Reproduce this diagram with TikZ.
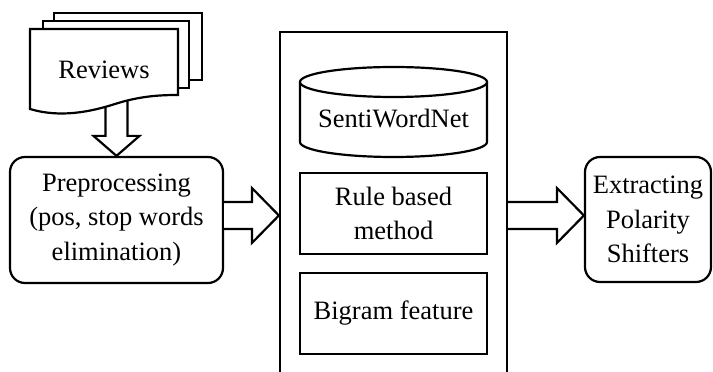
\documentclass[tikz,border=0pt]{standalone}
\usepackage{fontspec}
\setmainfont{Liberation Serif}
\usetikzlibrary{calc}
\tikzset{
  lw/.style={line width=2.2pt, line join=miter},
  txt/.style={font=\fontsize{26.5}{34.5}\selectfont, align=center, inner sep=0pt},
  rbox/.style={lw, draw, fill=white, rounded corners=15pt, txt},
  sbox/.style={lw, draw, fill=white, txt},
  barrow/.style={lw, draw, fill=white},
  page/.style={lw, draw, fill=white}
}
\newcommand\myharrow[2]{%
  \draw[barrow] let \p1=(#1), \p2=(#2) in
    (\x1,\y1+13.5pt) -- (\x2-27pt,\y1+13.5pt) -- (\x2-27pt,\y1+27.5pt) -- (\x2,\y1)
    -- (\x2-27pt,\y1-27.5pt) -- (\x2-27pt,\y1-13.5pt) -- (\x1,\y1-13.5pt);}
\begin{document}
\begin{tikzpicture}[x=1pt,y=1pt]
\useasboundingbox (0,0) rectangle (713,372);
\clip (0,0) rectangle (713,372);
% boxes
\node[rbox, minimum width=213pt, minimum height=126pt] (pre) at (116.5,152) {Preprocessing\\(pos, stop words\\elimination)};
\node[rbox, minimum width=126pt, minimum height=125pt] (ext) at (648,152.5) {Extracting\\Polarity\\Shifters};
\node[sbox, minimum width=227pt, minimum height=360pt] (big) at (393.5,160) {};
\node[sbox, minimum width=187pt, minimum height=81pt] (rule) at (393.5,158.5) {Rule based\\method};
\node[sbox, minimum width=187pt, minimum height=81pt] (bigram) at (393.5,58.5) {Bigram feature};
% cylinder
\draw[lw, fill=white] (300,290) -- (300,230) arc (180:360:93.5pt and 15pt) -- (487,290);
\draw[lw, fill=white] (393.5,290) ellipse (93.5pt and 15pt);
\node[txt] (swn) at (393.5,253) {SentiWordNet};
% down arrow from reviews
\coordinate (dstart) at (117,272);
\draw[barrow] let \p1=(dstart), \p2=(pre.north) in
  (\x2-11pt,\y1) -- (\x2-11pt,\y2+20pt) -- (\x2-23pt,\y2+20pt) -- (\x2,\y2)
  -- (\x2+23pt,\y2+20pt) -- (\x2+11pt,\y2+20pt) -- (\x2+11pt,\y1);
% document stack
\draw[page] (54,292) rectangle (202,359);
\draw[page] (43,284) rectangle (189,351);
\draw[page] (30,263) -- (30,343) -- (178,343) -- (178,277)
  .. controls (160,277) and (140,276) .. (115,268)
  .. controls (90,260) and (60,254) .. (30,263) -- cycle;
\node[txt] (rev) at (104,302) {Reviews};
% block arrows
\coordinate (a1s) at ($(pre.east)+(0,4.5)$);
\myharrow{a1s}{big.west |- a1s}
\coordinate (a2s) at (big.east |- a1s);
\myharrow{a2s}{ext.west |- a1s}
\end{tikzpicture}
\end{document}
